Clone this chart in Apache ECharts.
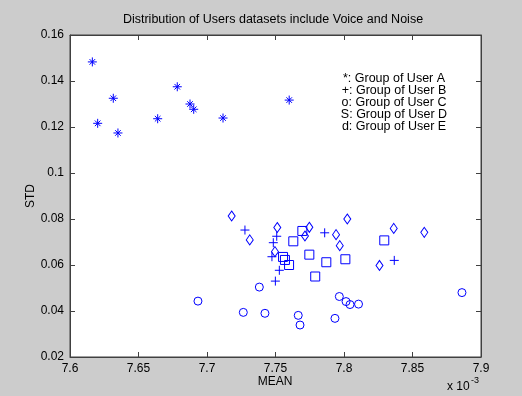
<!DOCTYPE html>
<html>
<head>
<meta charset="utf-8">
<script src="https://cdn.jsdelivr.net/npm/echarts@6/dist/echarts.min.js"></script>
<style>
  html, body { margin: 0; padding: 0; background: #cccccc; }
  #chart { width: 522px; height: 396px; }
</style>
</head>
<body>
<div id="chart"></div>
<script>
// MEAN values are in units of 1e-3, STD values as is: [mean, std]
const groupA = [
  [7.6163, 0.1483], [7.6202, 0.1216], [7.6316, 0.1325], [7.6350, 0.1174],
  [7.6640, 0.1236], [7.6783, 0.1375], [7.6876, 0.1300], [7.6903, 0.1277],
  [7.7117, 0.1239], [7.7600, 0.1317]
];
const groupB = [
  [7.7277, 0.0752], [7.7509, 0.0725], [7.7484, 0.0697], [7.7474, 0.0636],
  [7.7528, 0.0577], [7.7499, 0.0530], [7.7859, 0.0740], [7.8367, 0.0620]
];
const groupC = [
  [7.6934, 0.0443], [7.7265, 0.0394], [7.7382, 0.0504], [7.7423, 0.0390],
  [7.7666, 0.0381], [7.7679, 0.0339], [7.7934, 0.0368], [7.7966, 0.0463],
  [7.8015, 0.0441], [7.8044, 0.0428], [7.8106, 0.0430], [7.8861, 0.0480]
];
const groupD = [
  [7.7630, 0.0703], [7.7696, 0.0748], [7.7747, 0.0645], [7.7871, 0.0612],
  [7.8010, 0.0625], [7.7790, 0.0550], [7.7555, 0.0635], [7.7569, 0.0622],
  [7.7599, 0.0600], [7.8294, 0.0707]
];
const groupE = [
  [7.7180, 0.0813], [7.7312, 0.0709], [7.7513, 0.0763], [7.7747, 0.0764],
  [7.7715, 0.0726], [7.7496, 0.0658], [7.8024, 0.0800], [7.7942, 0.0732],
  [7.7969, 0.0684], [7.8259, 0.0598], [7.8363, 0.0759], [7.8586, 0.0742]
];

const xRange = { min: 7.6, max: 7.9, step: 0.05 };
const yRange = { min: 0.02, max: 0.16, step: 0.02 };

const legendLines = [
  '*: Group of User A',
  '+: Group of User B',
  'o: Group of User C',
  'S: Group of User D',
  'd: Group of User E'
];

const titleText = 'Distribution of Users datasets include Voice and Noise';
const xName = 'MEAN';
const yName = 'STD';

const FONT = 'Liberation Sans, Arial, Helvetica, sans-serif';
const BLUE = '#0000ff';
const AXIS = '#404040';

const plusPath = 'path://M0,-1L0,1M-1,0L1,0';
const starPath = 'path://M0,-1L0,1M-1,0L1,0M-0.62,-0.62L0.62,0.62M-0.62,0.62L0.62,-0.62';

function series(name, data, symbol, size) {
  return {
    name: name,
    type: 'scatter',
    data: data,
    symbol: symbol,
    symbolSize: size,
    silent: true,
    itemStyle: { color: 'rgba(0,0,0,0)', borderColor: BLUE, borderWidth: 1, opacity: 1 }
  };
}

const chart = echarts.init(document.getElementById('chart'), null, { renderer: 'canvas' });

const baseAxis = {
  scale: true,
  axisLine: { show: true, onZero: false, lineStyle: { color: AXIS, width: 1 } },
  axisTick: { show: true, inside: true, length: 5, lineStyle: { color: AXIS } },
  splitLine: { show: false }
};

chart.setOption({
  animation: false,
  backgroundColor: '#cccccc',
  grid: {
    left: 70, right: 41, top: 35, bottom: 39,
    show: true, backgroundColor: '#ffffff', borderColor: AXIS, borderWidth: 1
  },
  xAxis: [
    Object.assign({}, baseAxis, {
      type: 'value', position: 'bottom',
      min: xRange.min, max: xRange.max, interval: xRange.step,
      axisLabel: { color: '#000', fontFamily: FONT, fontSize: 12, margin: 6,
        formatter: v => String(+v.toFixed(2)) }
    }),
    Object.assign({}, baseAxis, {
      type: 'value', position: 'top',
      min: xRange.min, max: xRange.max, interval: xRange.step,
      axisLabel: { show: false }
    })
  ],
  yAxis: [
    Object.assign({}, baseAxis, {
      type: 'value', position: 'left',
      min: yRange.min, max: yRange.max, interval: yRange.step,
      axisLabel: { color: '#000', fontFamily: FONT, fontSize: 12, margin: 6,
        formatter: v => String(+v.toFixed(2)) }
    }),
    Object.assign({}, baseAxis, {
      type: 'value', position: 'right',
      min: yRange.min, max: yRange.max, interval: yRange.step,
      axisLabel: { show: false }
    })
  ],
  series: [
    series('A', groupA, starPath, 9),
    series('B', groupB, plusPath, 9),
    series('C', groupC, 'circle', 8),
    series('D', groupD, 'rect', 9),
    series('E', groupE, 'diamond', [7, 10])
  ],
  graphic: [
    { type: 'text', x: 273, y: 20, style: { text: titleText, fill: '#000', font: '12.5px ' + FONT, textAlign: 'center', textVerticalAlign: 'middle' } },
    { type: 'text', x: 275, y: 382, style: { text: xName, fill: '#000', font: '12px ' + FONT, textAlign: 'center', textVerticalAlign: 'middle' } },
    { type: 'text', x: 31, y: 196, rotation: Math.PI / 2, style: { text: yName, fill: '#000', font: '12px ' + FONT, textAlign: 'center', textVerticalAlign: 'middle' } },
    { type: 'text', x: 447, y: 387, style: { text: 'x 10', fill: '#000', font: '12px ' + FONT, textAlign: 'left', textVerticalAlign: 'middle' } },
    { type: 'text', x: 471, y: 381, style: { text: '-3', fill: '#000', font: '9px ' + FONT, textAlign: 'left', textVerticalAlign: 'middle' } },
    {
      type: 'group', x: 394, y: 79,
      children: legendLines.map((t, i) => ({
        type: 'text', x: 0, y: i * 12,
        style: { text: t, fill: '#000', font: '12.5px ' + FONT, textAlign: 'center', textVerticalAlign: 'middle' }
      }))
    }
  ]
});
</script>
</body>
</html>
